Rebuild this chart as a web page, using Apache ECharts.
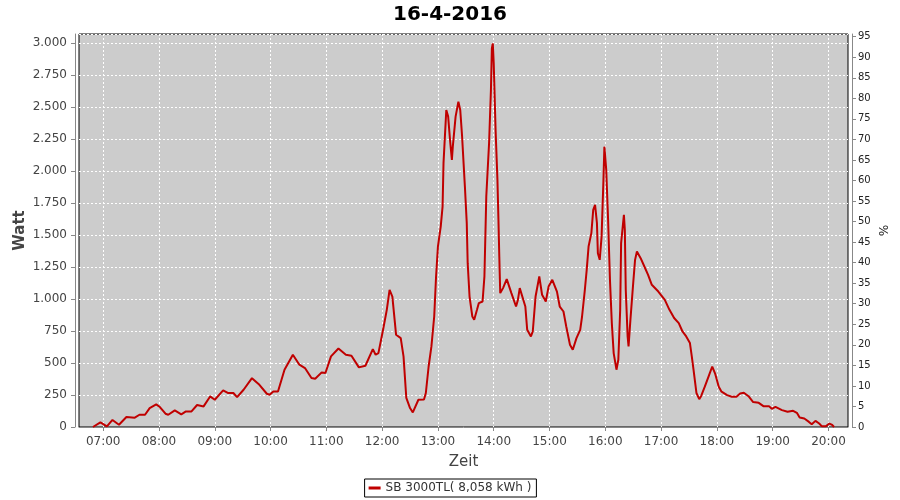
<!DOCTYPE html>
<html>
<head>
<meta charset="utf-8">
<script src="https://cdn.jsdelivr.net/npm/echarts@6/dist/echarts.min.js"></script>
<style>
html,body{margin:0;padding:0;background:#fff;}
#chart{width:900px;height:500px;}
</style>
</head>
<body>
<div id="chart"></div>
<script>
const titleText = '16-4-2016';
const seriesName = 'SB 3000TL( 8,058 kWh )';
const hourTicks = ['07:00','08:00','09:00','10:00','11:00','12:00','13:00','14:00','15:00','16:00','17:00','18:00','19:00','20:00'];
const times = ['06:49','06:57','07:04','07:10','07:17','07:25','07:34','07:39','07:45','07:50','07:57','08:01','08:07','08:10','08:17','08:24','08:29','08:35','08:41','08:48','08:55','09:00','09:09','09:14','09:20','09:24','09:31','09:40','09:48','09:56','09:59','10:03','10:08','10:15','10:24','10:31','10:37','10:44','10:48','10:55','10:59','11:05','11:13','11:21','11:27','11:35','11:42','11:50','11:53','11:56','12:01','12:05','12:08','12:11','12:15','12:20','12:23','12:26','12:30','12:33','12:39','12:45','12:47','12:50','12:53','12:56','12:58','13:00','13:03','13:05','13:06','13:09','13:11','13:13','13:15','13:16','13:19','13:22','13:24','13:26','13:29','13:31','13:32','13:34','13:37','13:39','13:42','13:44','13:48','13:50','13:52','13:55','13:57','13:58','13:59','14:00','14:02','14:04','14:05','14:06','14:07','14:10','14:14','14:19','14:24','14:26','14:28','14:34','14:36','14:40','14:42','14:45','14:49','14:52','14:56','14:59','15:03','15:08','15:11','15:15','15:18','15:22','15:25','15:29','15:33','15:35','15:38','15:40','15:42','15:45','15:47','15:49','15:51','15:52','15:54','15:56','15:58','15:59','16:01','16:03','16:05','16:07','16:09','16:12','16:14','16:16','16:17','16:20','16:21','16:22','16:24','16:25','16:27','16:30','16:32','16:34','16:35','16:38','16:42','16:46','16:50','16:57','17:04','17:09','17:14','17:19','17:23','17:27','17:31','17:33','17:35','17:38','17:41','17:43','17:47','17:51','17:55','17:58','18:02','18:05','18:11','18:16','18:21','18:25','18:29','18:34','18:39','18:45','18:50','18:56','18:59','19:03','19:05','19:10','19:16','19:22','19:26','19:29','19:34','19:39','19:42','19:46','19:50','19:53','19:57','20:01','20:04','20:06'];
const watts = [0,36,5,55,18,78,73,96,96,148,177,156,104,96,130,99,122,122,172,161,239,213,286,266,266,234,291,382,330,260,252,278,278,448,565,487,461,383,377,427,422,552,614,565,557,466,479,609,565,578,760,916,1073,1020,721,695,552,227,148,114,213,215,266,473,630,864,1177,1411,1567,1723,2063,2479,2427,2245,2088,2192,2427,2544,2479,2270,1880,1594,1281,1020,864,838,916,969,981,1177,1802,2219,2635,2961,3000,2844,2323,1932,1645,1333,1047,1086,1156,1047,942,994,1086,942,760,708,747,1020,1177,1034,981,1098,1151,1059,942,903,786,643,604,695,760,864,1073,1229,1411,1516,1698,1737,1594,1359,1307,1489,1932,2192,2010,1620,1151,813,578,448,526,916,1438,1659,1541,1073,708,630,838,1125,1307,1372,1385,1320,1255,1190,1112,1059,994,916,852,812,747,708,656,552,440,266,218,241,315,394,473,420,315,276,249,237,237,262,268,241,195,189,163,163,142,158,163,132,119,127,111,74,66,40,21,48,27,5,5,27,16,0];

function toMin(s){const p=s.split(':');return (+p[0])*60+(+p[1]);}
function fmtTime(v){const h=Math.floor(v/60),m=Math.round(v%60);return String(h).padStart(2,'0')+':'+String(m).padStart(2,'0');}
function fmtWatt(v){v=Math.round(v);if(v>=1000){return Math.floor(v/1000)+'.'+String(v%1000).padStart(3,'0');}return String(v);}

const data = times.map((t,i)=>[toMin(t), watts[i]]);
const hourVals = hourTicks.map(toMin);

const leftMax = 3073;
const rightMax = 95.65;
const font = 'DejaVu Sans';

const chart = echarts.init(document.getElementById('chart'), null, {renderer:'canvas'});
chart.setOption({
  animation:false,
  backgroundColor:'#ffffff',
  title:{text:titleText,left:'center',top:0,textStyle:{fontFamily:font,fontWeight:'bold',fontSize:20,color:'#000'}},
  grid:{left:79,right:52,top:34,bottom:73,show:true,backgroundColor:'#cccccc',borderColor:'#000',borderWidth:1,containLabel:false},
  legend:{bottom:3,left:'center',borderColor:'#000',borderWidth:1,padding:[3,5,3,4],itemWidth:12,itemHeight:3,icon:'rect',itemGap:4,
    textStyle:{fontFamily:font,fontSize:12,color:'#333'},data:[seriesName]},
  xAxis:{type:'value',min:394,max:1221,offset:4,
    axisLine:{show:true,lineStyle:{color:'#888',width:1}},
    axisTick:{show:true,length:4,lineStyle:{color:'#888'},customValues:hourVals},
    axisLabel:{customValues:hourVals,formatter:fmtTime,fontFamily:font,fontSize:12,color:'#444',margin:5},
    splitLine:{show:true,lineStyle:{color:'#ffffff',type:[2,2],width:1}},
    name:'Zeit',nameLocation:'middle',nameGap:24,nameTextStyle:{fontFamily:font,fontSize:15,color:'#444'}},
  yAxis:[
    {type:'value',min:0,max:leftMax,interval:250,offset:4,position:'left',
      axisLine:{show:true,lineStyle:{color:'#888',width:1}},
      axisTick:{show:true,length:4,lineStyle:{color:'#888'}},
      axisLabel:{formatter:fmtWatt,showMaxLabel:false,fontFamily:font,fontSize:12,color:'#444',margin:8},
      splitLine:{show:true,lineStyle:{color:'#ffffff',type:[2,2],width:1}},
      name:'Watt',nameLocation:'middle',nameRotate:90,nameGap:47,nameMoveOverlap:false,nameTextStyle:{fontFamily:font,fontSize:15,fontWeight:'bold',color:'#444'}},
    {type:'value',min:0,max:rightMax,interval:5,offset:4,position:'right',
      axisLine:{show:true,lineStyle:{color:'#888',width:1}},
      axisTick:{show:true,length:4,lineStyle:{color:'#888'}},
      axisLabel:{showMaxLabel:false,fontFamily:font,fontSize:10,color:'#222',margin:6},
      splitLine:{show:false},
      name:'%',nameLocation:'middle',nameRotate:-90,nameGap:24,nameMoveOverlap:false,nameTextStyle:{fontFamily:font,fontSize:12,color:'#222'}}
  ],
  series:[{name:seriesName,type:'line',data:data,yAxisIndex:0,showSymbol:false,symbol:'none',
    lineStyle:{color:'#c00000',width:2},itemStyle:{color:'#c00000'}}]
});
</script>
</body>
</html>
